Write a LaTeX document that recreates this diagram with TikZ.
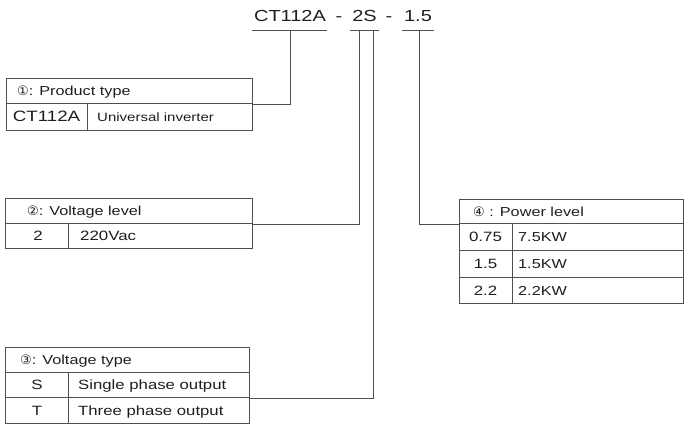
\documentclass[tikz,border=0pt]{standalone}
\usepackage{fontspec}
\setmainfont[FakeStretch=1.25]{Liberation Sans}
\newfontfamily\circfont{DejaVu Sans}
\definecolor{linec}{HTML}{505050}
\definecolor{txtc}{HTML}{1E1E1E}
\begin{document}
\begin{tikzpicture}[x=1pt,y=-1pt,
  cell/.style={draw=linec, line width=1pt, rectangle, inner sep=0pt, anchor=north west},
  lbl/.style={inner sep=0pt, anchor=base west, text=txtc, font=\fontsize{13}{15}\selectfont},
  ctr/.style={inner sep=0pt, anchor=base, text=txtc, font=\fontsize{13.5}{15}\selectfont},
  top/.style={inner sep=0pt, anchor=base, text=txtc, font=\fontsize{16}{18}\selectfont},
  conn/.style={draw=linec, line width=1pt}]
\useasboundingbox (0,0) rectangle (685,424);

% ---- top code ----
\node[top] (t1) at (290,21) {CT112A};
\node[top] (d1) at (339,21) {-};
\node[top] (t2) at (364.5,21) {2S};
\node[top] (d2) at (389,21) {-};
\node[top] (t3) at (418,21) {1.5};
\coordinate (u1a) at (252,30); \coordinate (u1b) at (327,30);
\coordinate (u2a) at (350,30); \coordinate (u2b) at (379,30);
\coordinate (u3a) at (402,30); \coordinate (u3b) at (434,30);
\draw[conn] (u1a) -- (u1b);
\draw[conn] (u2a) -- (u2b);
\draw[conn] (u3a) -- (u3b);
\coordinate (p1) at (290,30);
\coordinate (p2) at (359,30);
\coordinate (p3) at (373,30);
\coordinate (p4) at (419,30);

% ---- table 1 ----
\node[cell, minimum width=246pt, minimum height=25pt] (h1) at (6,78) {};
\node[cell, minimum width=81pt, minimum height=27pt] (a1) at (6,103) {};
\node[cell, minimum width=165pt, minimum height=27pt] (b1) at (87,103) {};
\node[lbl] (h1t) at (17,95.5) {{\circfont ①}: Product type};
\node[ctr, font=\fontsize{15}{17}\selectfont] (a1t) at (46.5,121.5) {CT112A};
\node[lbl, font=\fontsize{12}{14}\selectfont] (b1t) at (97,121) {Universal inverter};

% ---- table 2 ----
\node[cell, minimum width=247pt, minimum height=25pt] (h2) at (5,198) {};
\node[cell, minimum width=63pt, minimum height=25pt] (a2) at (5,223) {};
\node[cell, minimum width=184pt, minimum height=25pt] (b2) at (68,223) {};
\node[lbl] (h2t) at (27,215.5) {{\circfont ②}: Voltage level};
\node[ctr] (a2t) at (38,240.5) {2};
\node[lbl, font=\fontsize{13.5}{15}\selectfont] (b2t) at (80,240.5) {220Vac};

% ---- table 3 ----
\node[cell, minimum width=244pt, minimum height=25pt] (h3) at (5,347) {};
\node[cell, minimum width=63pt, minimum height=25pt] (a3) at (5,372) {};
\node[cell, minimum width=181pt, minimum height=25pt] (b3) at (68,372) {};
\node[cell, minimum width=63pt, minimum height=26pt] (c3) at (5,397) {};
\node[cell, minimum width=181pt, minimum height=26pt] (d3) at (68,397) {};
\node[lbl] (h3t) at (20,364.5) {{\circfont ③}: Voltage type};
\node[ctr] (a3t) at (37,389.5) {S};
\node[lbl, font=\fontsize{13.4}{15}\selectfont] (b3t) at (78,389.5) {Single phase output};
\node[ctr] (c3t) at (37,415) {T};
\node[lbl, font=\fontsize{13.4}{15}\selectfont] (d3t) at (78,415) {Three phase output};

% ---- table 4 ----
\node[cell, minimum width=224pt, minimum height=24pt] (h4) at (459,199) {};
\node[cell, minimum width=53pt, minimum height=27pt] (a4) at (459,223) {};
\node[cell, minimum width=171pt, minimum height=27pt] (b4) at (512,223) {};
\node[cell, minimum width=53pt, minimum height=27pt] (c4) at (459,250) {};
\node[cell, minimum width=171pt, minimum height=27pt] (d4) at (512,250) {};
\node[cell, minimum width=53pt, minimum height=26pt] (e4) at (459,277) {};
\node[cell, minimum width=171pt, minimum height=26pt] (f4) at (512,277) {};
\node[lbl] (h4t) at (473,216) {{\circfont ④} : Power level};
\node[ctr] (a4t) at (485.5,241.5) {0.75};
\node[lbl] (b4t) at (518,241.5) {7.5KW};
\node[ctr] (c4t) at (485.5,268.5) {1.5};
\node[lbl] (d4t) at (518,268.5) {1.5KW};
\node[ctr] (e4t) at (485.5,295) {2.2};
\node[lbl] (f4t) at (518,295) {2.2KW};

% ---- connectors ----
\draw[conn] (p1) |- (h1.south east);
\draw[conn] (p2) |- (h2.south east);
\draw[conn] (p3) |- (a3.south -| b3.east);
\draw[conn] (p4) |- (h4.south west);
\end{tikzpicture}
\end{document}
